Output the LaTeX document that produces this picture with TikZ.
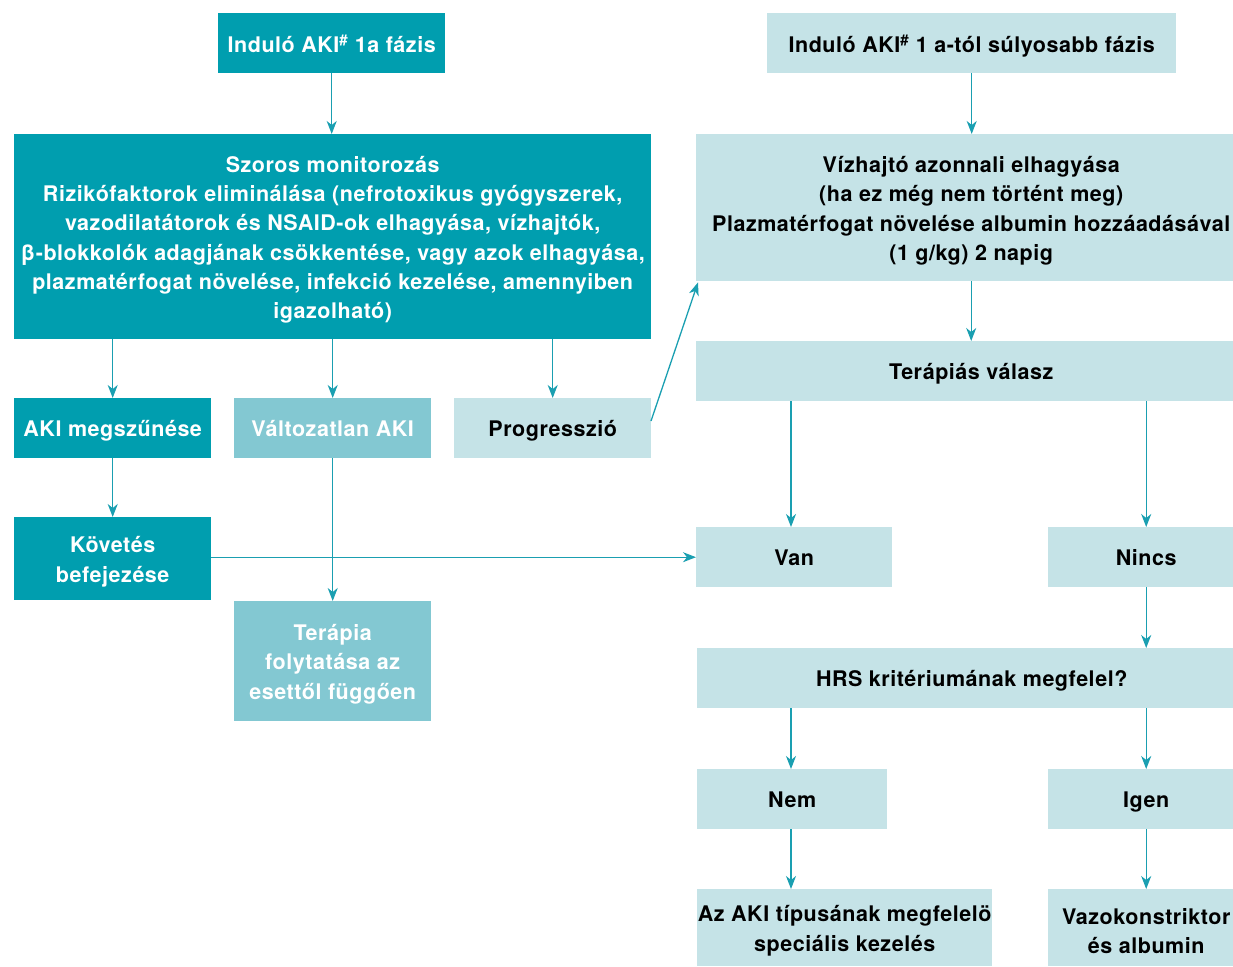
\documentclass[tikz,border=0pt]{standalone}
\usepackage{fontspec}
\setmainfont[LetterSpace=2.5]{TeX Gyre Heros}
\usetikzlibrary{arrows.meta}
\definecolor{dark}{HTML}{009EAF}
\definecolor{mid}{HTML}{83C8D2}
\definecolor{light}{HTML}{C5E3E7}
\definecolor{arr}{HTML}{1A9FB1}
\tikzset{
  base/.style={anchor=north west, inner sep=0pt},
  txt/.style={inner sep=0pt, align=center, font=\fontsize{21.5}{29.2}\selectfont\bfseries},
  darkbox/.style={base, fill=dark},
  midbox/.style={base, fill=mid},
  lightbox/.style={base, fill=light},
  wtxt/.style={txt, text=white},
  btxt/.style={txt, text=black},
  conn/.style={draw=arr, line width=1.3pt, -{Stealth[length=13pt,width=10pt,inset=4pt]}}
}
\newcommand{\st}{\rule[-5pt]{0pt}{20.5pt}}
\newcommand{\bx}[8]{% boxstyle, textstyle, name, x1, y1, x2, y2, text
  \node[#1, minimum width={(#6-#4)*1pt}, minimum height={(#7-#5)*1pt}] (#3) at (#4,#5) {};
  \node[#2] (#3-t) at ([yshift=-3pt]#3.center) {#8};}
\begin{document}
\begin{tikzpicture}[x=1pt,y=-1pt]
\useasboundingbox (0,0) rectangle (1233,966);
\bx{darkbox}{wtxt}{a1}{218}{13}{445}{73}{\st Induló AKI\textsuperscript{\#} 1a fázis}
\bx{lightbox}{btxt}{b1}{767}{13}{1176}{73}{\st Induló AKI\textsuperscript{\#} 1 a-tól súlyosabb fázis}
\bx{darkbox}{wtxt}{sz}{14}{134}{651}{339}{Szoros monitorozás\\Rizikófaktorok eliminálása (nefrotoxikus gyógyszerek,\\vazodilatátorok és NSAID-ok elhagyása, vízhajtók,\\β-blokkolók adagjának csökkentése, vagy azok elhagyása,\\plazmatérfogat növelése, infekció kezelése, amennyiben\\igazolható)}
\bx{lightbox}{btxt}{vz}{696}{134}{1246}{281}{Vízhajtó azonnali elhagyása\\(ha ez még nem történt meg)\\Plazmatérfogat növelése albumin hozzáadásával\\(1 g/kg) 2 napig}
\bx{darkbox}{wtxt}{akim}{14}{398}{211}{458}{\st AKI megszűnése}
\bx{midbox}{wtxt}{valt}{234}{398}{431}{458}{\st Változatlan AKI}
\bx{lightbox}{btxt}{prog}{454}{398}{651}{458}{\st Progresszió}
\bx{lightbox}{btxt}{tv}{696}{341}{1246}{401}{\st Terápiás válasz}
\bx{darkbox}{wtxt}{kov}{14}{517}{211}{600}{Követés\\befejezése}
\bx{lightbox}{btxt}{van}{696}{527}{892}{587}{\st Van}
\bx{lightbox}{btxt}{nincs}{1048}{527}{1244}{587}{\st Nincs}
\bx{midbox}{wtxt}{ter}{234}{601}{431}{721}{Terápia\\folytatása az\\esettől függően}
\bx{lightbox}{btxt}{hrs}{697}{648}{1246}{708}{\st HRS kritériumának megfelel?}
\bx{lightbox}{btxt}{nem}{697}{769}{887}{829}{\st Nem}
\bx{lightbox}{btxt}{igen}{1048}{769}{1244}{829}{\st Igen}
\bx{lightbox}{btxt}{spec}{697}{889}{992}{966}{Az AKI típusának megfelelö\\speciális kezelés}
\bx{lightbox}{btxt}{vazo}{1048}{889}{1244}{966}{Vazokonstriktor\\és albumin}
\coordinate (pstart) at (651,421);
% connectors
\draw[conn] (a1.south) -- (a1.south |- sz.north);
\draw[conn] (b1.south) -- (b1.south |- vz.north);
\draw[conn] (sz.south -| akim.north) -- (akim.north);
\draw[conn] (sz.south -| valt.north) -- (valt.north);
\draw[conn] (sz.south -| prog.north) -- (prog.north);
\draw[conn] (akim.south) -- (kov.north);
\draw[conn] (valt.south) -- (ter.north);
\draw[conn] (kov.east |- van.west) -- (van.west);
\draw[conn] (pstart) -- ([xshift=2pt,yshift=-1pt]vz.south west);
\draw[conn] (vz.south) -- (tv.north);
\draw[conn] (tv.south -| 791,0) -- (van.north -| 791,0);
\draw[conn] (tv.south -| nincs.north) -- (nincs.north);
\draw[conn] (nincs.south) -- (hrs.north -| nincs.south);
\draw[conn] (hrs.south -| 791,0) -- (nem.north -| 791,0);
\draw[conn] (hrs.south -| igen.north) -- (igen.north);
\draw[conn] (nem.south -| 791,0) -- (spec.north -| 791,0);
\draw[conn] (igen.south) -- (vazo.north);
\end{tikzpicture}
\end{document}
